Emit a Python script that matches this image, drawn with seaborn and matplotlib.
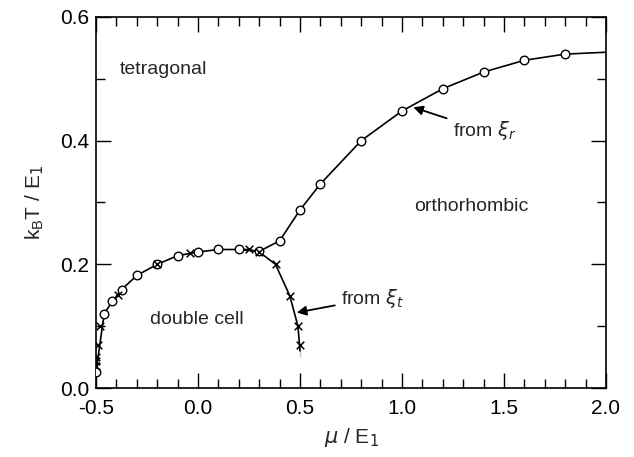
import matplotlib
matplotlib.use("Agg")
import matplotlib.pyplot as plt
import seaborn as sns
import pandas as pd
from matplotlib.ticker import MultipleLocator

# --- data ---
mu_r = [-0.5, -0.46, -0.42, -0.375, -0.3, -0.2, -0.1, 0.0, 0.1, 0.2, 0.3, 0.4,
        0.5, 0.6, 0.8, 1.0, 1.2, 1.4, 1.6, 1.8]
T_r = [0.026, 0.12, 0.14, 0.159, 0.182, 0.2, 0.214, 0.22, 0.224, 0.224, 0.221,
       0.238, 0.288, 0.33, 0.4, 0.448, 0.484, 0.511, 0.53, 0.54]
mu_r_end = [2.0]
T_r_end = [0.543]

mu_t = [-0.5, -0.5, -0.5, -0.49, -0.48, -0.39, -0.2, -0.04, 0.25, 0.3, 0.38,
        0.45, 0.49, 0.5]
T_t = [0.035, 0.043, 0.05, 0.07, 0.1, 0.15, 0.2, 0.218, 0.224, 0.22, 0.2,
       0.149, 0.1, 0.07]
# lower branch of the xi_t line (below the split)
mu_t_line = [0.2, 0.25, 0.3, 0.38, 0.45, 0.49, 0.5, 0.5]
T_t_line = [0.224, 0.224, 0.22, 0.2, 0.149, 0.1, 0.07, 0.05]

sns.set_style("ticks")
plt.rcParams["font.family"] = ["Liberation Sans", "DejaVu Sans"]
plt.rcParams["mathtext.fontset"] = "dejavusans"

fig = plt.figure(figsize=(6.34, 4.57), dpi=100)
ax = fig.add_axes([96 / 634, 1 - 388 / 457, 510 / 634, 371 / 457])

df_r = pd.DataFrame({"mu": mu_r + mu_r_end, "T": T_r + T_r_end})
df_tl = pd.DataFrame({"mu": mu_t_line, "T": T_t_line})
sns.lineplot(data=df_r, x="mu", y="T", sort=False, color="black", lw=1.2, ax=ax)
sns.lineplot(data=df_tl, x="mu", y="T", sort=False, color="black", lw=1.2, ax=ax)

df_c = pd.DataFrame({"mu": mu_r, "T": T_r})
df_x = pd.DataFrame({"mu": mu_t, "T": T_t})
sns.scatterplot(data=df_c, x="mu", y="T", marker="o", s=38, facecolor="white",
                edgecolor="black", linewidth=1.0, zorder=3, ax=ax)
sns.scatterplot(data=df_x, x="mu", y="T", marker="x", s=30, color="black",
                linewidth=1.1, zorder=4, ax=ax)

ax.set_xlim(-0.5, 2.0)
ax.set_ylim(0.0, 0.6)
ax.xaxis.set_major_locator(MultipleLocator(0.5))
ax.xaxis.set_minor_locator(MultipleLocator(0.1))
ax.yaxis.set_major_locator(MultipleLocator(0.2))
ax.yaxis.set_minor_locator(MultipleLocator(0.1))
ax.tick_params(which="both", direction="in", top=True, right=True,
               width=1.0, labelsize=15, colors="black")
ax.tick_params(axis="x", pad=8)
ax.tick_params(axis="y", pad=5)
ax.tick_params(which="major", length=11)
ax.tick_params(which="minor", length=6.5)
for s in ax.spines.values():
    s.set_linewidth(1.2)
    s.set_color("black")
ax.set_xticklabels([f"{v:.1f}" for v in ax.get_xticks()])
ax.set_yticklabels([f"{v:.1f}" for v in ax.get_yticks()])
# lift the bottom y label slightly, as in the reference
ax.get_yticklabels()[0].set_va("bottom")

ax.set_xlabel(r"$\mu$ / E$_1$", fontsize=15, labelpad=6)
ax.set_ylabel(r"k$_\mathregular{B}$T / E$_1$", fontsize=15, labelpad=10)

ax.text(-0.17, 0.515, "tetragonal", fontsize=14, ha="center", va="center")
ax.text(1.34, 0.293, "orthorhombic", fontsize=14, ha="center", va="center")
ax.text(-0.005, 0.11, "double cell", fontsize=14, ha="center", va="center")

ax.annotate(r"from $\xi_r$", xy=(1.055, 0.454), xytext=(1.248, 0.416),
            fontsize=14, ha="left", va="center",
            arrowprops=dict(arrowstyle="-|>", color="black", lw=1.3,
                            mutation_scale=14, shrinkA=2, shrinkB=0))
ax.annotate(r"from $\xi_t$", xy=(0.484, 0.122), xytext=(0.70, 0.145),
            fontsize=14, ha="left", va="center",
            arrowprops=dict(arrowstyle="-|>", color="black", lw=1.3,
                            mutation_scale=14, shrinkA=2, shrinkB=0))

fig.savefig("out.png", dpi=100)
